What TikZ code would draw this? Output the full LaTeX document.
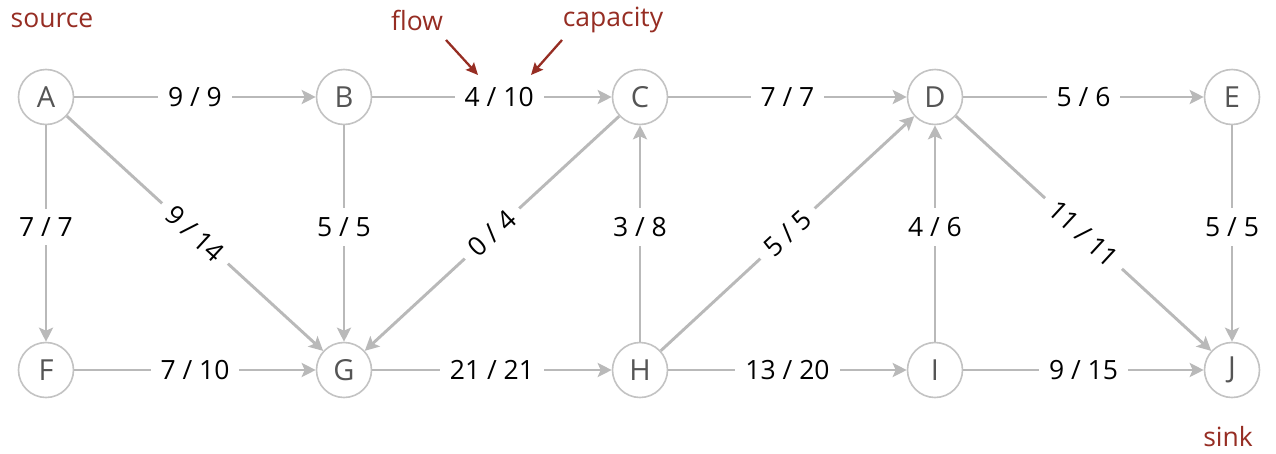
\documentclass[tikz,border=0pt]{standalone}
\usepackage{fontspec}
\setmainfont{Open Sans}
\usetikzlibrary{arrows.meta}
\definecolor{edgegray}{RGB}{185,185,185}
\definecolor{circgray}{RGB}{195,195,195}
\definecolor{lettergray}{RGB}{85,85,85}
\definecolor{annored}{RGB}{150,45,35}
\tikzset{
  vert/.style={circle,draw=circgray,line width=1.6pt,minimum size=55pt,inner sep=0pt,
    text=lettergray,font=\fontsize{29}{31}\selectfont},
  flowedge/.style={draw=edgegray,line width=2.9pt,
    -{Stealth[length=14pt,width=14pt,inset=3pt]}},
  lbl/.style={fill=white,inner xsep=10pt,inner ysep=9pt,text=black,
    font=\fontsize{26.5}{28}\selectfont},
  anno/.style={text=annored,font=\fontsize{26.5}{28}\selectfont},
  annoarrow/.style={draw=annored,line width=2.3pt,
    -{Stealth[length=12pt,width=11pt,inset=2pt]}}
}
\begin{document}
\begin{tikzpicture}[x=1pt,y=-1pt]
\useasboundingbox[fill=white] (0,0) rectangle (1276,453);
\node[vert] (A) at (46,97) {A};
\node[vert] (B) at (344,97) {B};
\node[vert] (C) at (640,97) {C};
\node[vert] (D) at (935,97) {D};
\node[vert] (E) at (1232,97) {E};
\node[vert] (F) at (46,370) {F};
\node[vert] (G) at (344,370) {G};
\node[vert] (H) at (640,370) {H};
\node[vert] (I) at (935,370) {I};
\node[vert] (J) at (1232,370) {J};

\draw[flowedge] (A) -- node[lbl,pos=0.5] {9 / 9} (B);
\draw[flowedge] (B) -- node[lbl,pos=0.53] {4 / 10} (C);
\draw[flowedge] (C) -- node[lbl] {7 / 7} (D);
\draw[flowedge] (D) -- node[lbl] {5 / 6} (E);
\draw[flowedge] (A) -- node[lbl,pos=0.47] {7 / 7} (F);
\draw[flowedge] (A) -- node[lbl,sloped,pos=0.5] {9 / 14} (G);
\draw[flowedge] (B) -- node[lbl,pos=0.47] {5 / 5} (G);
\draw[flowedge] (C) -- node[lbl,sloped,pos=0.5] {0 / 4} (G);
\draw[flowedge] (H) -- node[lbl,pos=0.53] {3 / 8} (C);
\draw[flowedge] (H) -- node[lbl,sloped,pos=0.5] {5 / 5} (D);
\draw[flowedge] (D) -- node[lbl,sloped,pos=0.5] {11 / 11} (J);
\draw[flowedge] (I) -- node[lbl,pos=0.53] {4 / 6} (D);
\draw[flowedge] (E) -- node[lbl,pos=0.47] {5 / 5} (J);
\draw[flowedge] (F) -- node[lbl] {7 / 10} (G);
\draw[flowedge] (G) -- node[lbl] {21 / 21} (H);
\draw[flowedge] (H) -- node[lbl] {13 / 20} (I);
\draw[flowedge] (I) -- node[lbl] {9 / 15} (J);

\node[anno] (src) at (52,20) {source};
\node[anno] (snk) at (1228,437) {sink};
\node[anno] (flw) at (417,20) {flow};
\node[anno] (cap) at (613,20) {capacity};
\coordinate (fto) at (478,75);
\coordinate (cto) at (531,75);
\draw[annoarrow] (446,40) -- (fto);
\draw[annoarrow] (562,40) -- (cto);
\end{tikzpicture}
\end{document}
